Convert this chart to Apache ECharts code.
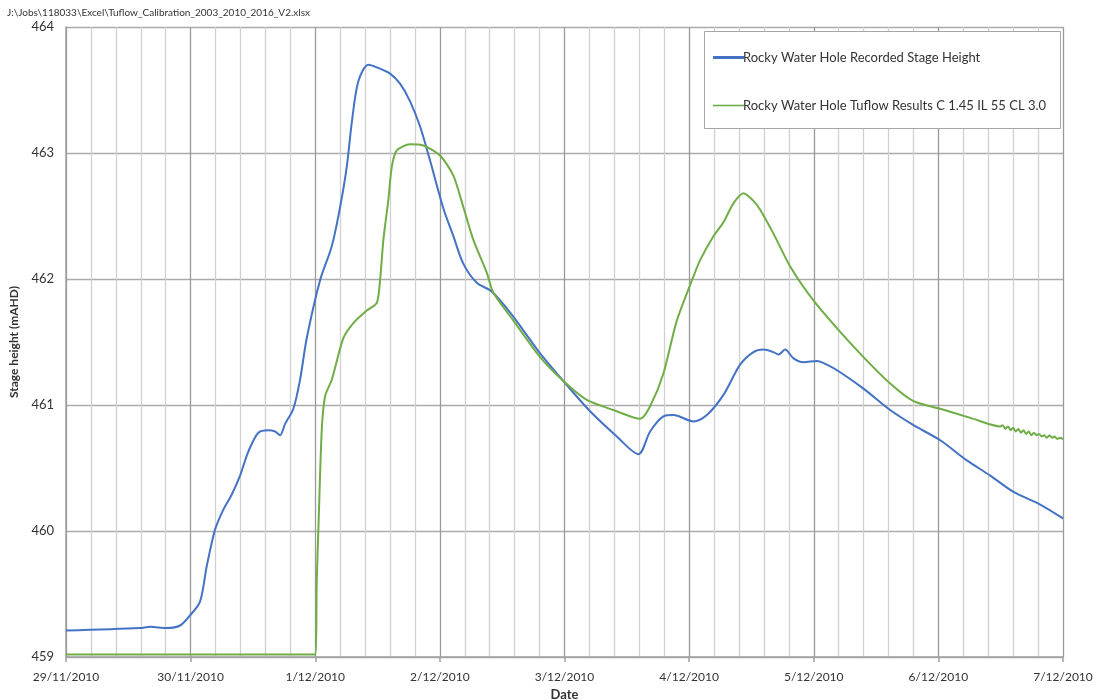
<!DOCTYPE html>
<html>
<head>
<meta charset="utf-8">
<title>Rocky Water Hole stage height</title>
<script src="https://cdn.jsdelivr.net/npm/echarts@6/dist/echarts.min.js"></script>
<style>
  html, body { margin: 0; padding: 0; background: #fff; }
  #chart { width: 1103px; height: 700px; }
</style>
</head>
<body>
<div id="chart"></div>
<script>
// Time is in hours from 29/11/2010 00:00; one tick label per day.
const dayLabels = ['29/11/2010', '30/11/2010', '1/12/2010', '2/12/2010', '3/12/2010',
                   '4/12/2010', '5/12/2010', '6/12/2010', '7/12/2010'];

const recordedHours = [0, 14.25, 16.2, 19.4, 21.96, 23.88, 25.81, 27.1, 28.7, 30.3, 31.92, 33.52,
  35.11, 37.04, 38.97, 40.26, 41.22, 42.19, 43.78, 45.07, 46.36, 48.93, 51.18, 52.78, 54.07,
  55.03, 56.3, 58.23, 59.85, 62.41, 64.33, 66.26, 68.19, 70.11, 72.68, 74.6, 76.53, 79.11,
  82.0, 86.16, 91.3, 95.79, 100.93, 106.08, 110.24, 112.49, 115.05, 116.98, 120.83, 123.41,
  126.61, 129.82, 132.39, 134.31, 136.24, 137.2, 138.49, 140.09, 142.02, 144.6, 146.53,
  149.09, 153.58, 158.72, 163.21, 168.35, 173.49, 177.98, 182.47, 187.61, 192];
const recordedStage = [459.21, 459.23, 459.24, 459.23, 459.25, 459.33, 459.44, 459.72, 460.01,
  460.17, 460.29, 460.44, 460.63, 460.78, 460.80, 460.79, 460.76, 460.85, 460.97, 461.20,
  461.53, 461.99, 462.26, 462.57, 462.89, 463.24, 463.57, 463.70, 463.68, 463.63, 463.55,
  463.41, 463.21, 462.94, 462.56, 462.34, 462.12, 461.97, 461.90, 461.70, 461.41, 461.19,
  460.95, 460.75, 460.61, 460.79, 460.91, 460.92, 460.87, 460.92, 461.08, 461.32, 461.42,
  461.44, 461.42, 461.40, 461.44, 461.37, 461.34, 461.35, 461.32, 461.26, 461.13, 460.96,
  460.84, 460.72, 460.56, 460.44, 460.31, 460.21, 460.10];

const tuflowHours = [0, 47.96, 48.29, 48.6, 49.25, 49.89, 51.18, 53.41, 55.34, 57.92, 59.85,
  60.48, 61.12, 62.08, 62.74, 63.7, 66.26, 68.82, 72.04, 74.6, 76.53, 78.45, 81.03, 82.31,
  86.16, 91.3, 95.79, 100.29, 105.42, 110.56, 112.49, 115.05, 117.63, 120.83, 122.12, 124.68,
  126.61, 128.53, 130.46, 132.39, 133.68, 136.24, 139.46, 143.94, 149.09, 153.58, 158.72,
  163.21, 168.35, 174.76, 179.9, 180.4, 180.9, 181.4, 181.9, 182.4, 182.9, 183.4, 183.9,
  184.4, 184.9, 185.4, 185.9, 186.4, 186.9, 187.4, 187.9, 188.4, 188.9, 189.4, 189.9,
  190.4, 190.9, 191.4, 192];
const tuflowStage = [459.02, 459.02, 459.61, 460.01, 460.80, 461.07, 461.20, 461.53, 461.65,
  461.75, 461.81, 461.99, 462.31, 462.63, 462.89, 463.02, 463.07, 463.06, 462.98, 462.82,
  462.57, 462.31, 462.05, 461.89, 461.67, 461.38, 461.19, 461.04, 460.96, 460.89, 460.99,
  461.25, 461.67, 462.02, 462.15, 462.34, 462.45, 462.60, 462.68, 462.62, 462.55, 462.36,
  462.10, 461.83, 461.58, 461.38, 461.17, 461.03, 460.97, 460.89, 460.83, 460.84, 460.81,
  460.83, 460.80, 460.82, 460.79, 460.81, 460.78, 460.80, 460.77, 460.79, 460.76, 460.78,
  460.76, 460.77, 460.75, 460.76, 460.74, 460.76, 460.74, 460.75, 460.73, 460.74, 460.73];

const pairs = (xs, ys) => xs.map((x, i) => [x, ys[i]]);
const FONT = 'Lato, "Open Sans", sans-serif';

const chart = echarts.init(document.getElementById('chart'), null, { renderer: 'canvas' });
chart.setOption({
  animation: false,
  backgroundColor: '#ffffff',
  title: {
    text: 'J:\\Jobs\\118033\\Excel\\Tuflow_Calibration_2003_2010_2016_V2.xlsx',
    left: 2, top: 3,
    textStyle: { fontFamily: FONT, fontSize: 10, fontWeight: 'normal', color: '#333' }
  },
  grid: { left: 66, right: 40, top: 27, bottom: 43, containLabel: false, outerBoundsMode: 'none' },
  graphic: [{
    type: 'rect', left: 704, top: 31, z: 5,
    shape: { width: 356, height: 97 },
    style: { fill: '#ffffff', stroke: '#a6a6a6', lineWidth: 1 }
  }],
  legend: {
    orient: 'vertical', left: 708, top: 46, z: 10,
    itemWidth: 31, itemHeight: 14, itemGap: 35,
    textStyle: { fontFamily: FONT, fontSize: 13, color: '#333', padding: [0, 0, 0, -6] },
    data: [
      { name: 'Rocky Water Hole Recorded Stage Height', icon: 'path://M0,6 L31,6 L31,9 L0,9 Z', itemStyle: { color: '#4472c4' } },
      { name: 'Rocky Water Hole Tuflow Results C 1.45 IL 55 CL 3.0', icon: 'path://M0,7 L31,7 L31,8.6 L0,8.6 Z', itemStyle: { color: '#70ad47' } }
    ]
  },
  xAxis: {
    type: 'value', min: 0, max: 192, interval: 24,
    name: 'Date', nameLocation: 'middle', nameGap: 27,
    nameTextStyle: { fontFamily: FONT, fontSize: 13, fontWeight: 'bold', color: '#333' },
    axisLine: { show: true, lineStyle: { color: '#a0a0a0', width: 1.5 } },
    axisTick: { show: true, length: 5, lineStyle: { color: '#a0a0a0', width: 1.5 } },
    axisLabel: {
      margin: 14, fontFamily: FONT, fontSize: 12, color: '#333',
      formatter: v => dayLabels[Math.round(v / 24)] || ''
    },
    splitLine: { show: true, lineStyle: { color: '#9a9a9a', width: 1.3 } },
    minorTick: { show: false, splitNumber: 5 },
    minorSplitLine: { show: true, lineStyle: { color: '#d0d0d0', width: 1.3 } }
  },
  yAxis: {
    type: 'value', min: 459, max: 464, interval: 1,
    name: 'Stage height (mAHD)', nameLocation: 'middle', nameGap: 35,
    nameTextStyle: { fontFamily: FONT, fontSize: 12, fontWeight: 'bold', color: '#333' },
    axisLine: { show: true, lineStyle: { color: '#a0a0a0', width: 1.5 } },
    axisTick: { show: false },
    axisLabel: { margin: 12, fontFamily: FONT, fontSize: 13, color: '#333' },
    splitLine: { show: true, lineStyle: { color: '#ababab', width: 1.3 } }
  },
  series: [
    {
      name: 'Rocky Water Hole Recorded Stage Height',
      type: 'line', symbol: 'none', smooth: 0.3,
      data: pairs(recordedHours, recordedStage),
      lineStyle: { color: '#4472c4', width: 2 },
      itemStyle: { color: '#4472c4' }
    },
    {
      name: 'Rocky Water Hole Tuflow Results C 1.45 IL 55 CL 3.0',
      type: 'line', symbol: 'none', smooth: 0.25,
      data: pairs(tuflowHours, tuflowStage),
      lineStyle: { color: '#70ad47', width: 2 },
      itemStyle: { color: '#70ad47' }
    }
  ]
});
</script>
</body>
</html>
